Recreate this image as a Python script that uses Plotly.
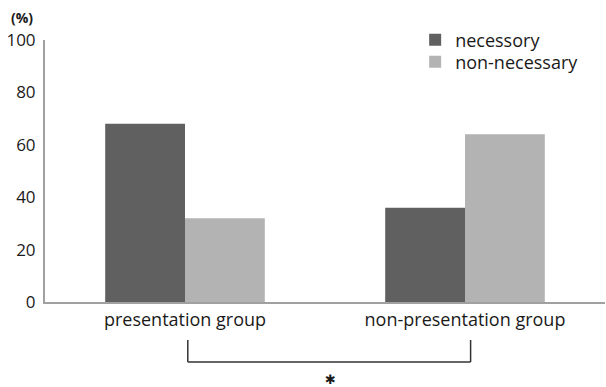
import plotly.graph_objects as go

categories = ["presentation group", "non-presentation group"]
necessory = [68, 36]
non_necessary = [32, 64]
series_names = ["necessory", "non-necessary"]
y_ticks = [0, 20, 40, 60, 80, 100]

FONT = "Open Sans"
TXT = "#1a1a1a"

fig = go.Figure()
fig.add_trace(go.Bar(x=categories, y=necessory, name=series_names[0], legend="legend",
                     marker=dict(color="#606060", line=dict(width=0))))
fig.add_trace(go.Bar(x=categories, y=non_necessary, name=series_names[1], legend="legend2",
                     marker=dict(color="#b3b3b3", line=dict(width=0))))

# significance bracket
BR = dict(color="#333333", width=1.5)
fig.add_shape(type="line", xref="x", yref="paper", x0=0.01, x1=0.01, y0=-0.145, y1=-0.229, line=BR)
fig.add_shape(type="line", xref="x", yref="paper", x0=1.02, x1=1.02, y0=-0.145, y1=-0.229, line=BR)
fig.add_shape(type="line", xref="x", yref="paper", x0=0.01, x1=1.02, y0=-0.229, y1=-0.229, line=BR)
fig.add_annotation(x=0.52, xref="x", y=-0.296, yref="paper", text="✱", showarrow=False,
                   yanchor="middle", font=dict(family="DejaVu Sans", size=13, color=TXT))
fig.add_annotation(x=-0.041, xref="paper", y=1.084, yref="paper", text="<b>(%)</b>", showarrow=False,
                   xanchor="center", yanchor="middle", font=dict(family=FONT, size=14, color=TXT))

LEG = dict(xanchor="left", yanchor="middle", font=dict(family=FONT, size=18, color=TXT),
           itemwidth=30, bgcolor="rgba(0,0,0,0)")
fig.update_layout(
    width=606, height=387,
    margin=dict(l=45, r=1, t=40, b=85, autoexpand=False),
    paper_bgcolor="white", plot_bgcolor="white",
    barmode="group", bargap=0.43, bargroupgap=0,
    font=dict(family=FONT, size=18, color=TXT),
    showlegend=True,
    legend=dict(x=0.661, y=1.0, **LEG),
    legend2=dict(x=0.661, y=0.916, **LEG),
    xaxis=dict(range=[-0.5, 1.5], showline=True, linecolor="#a0a0a0", linewidth=2,
               ticks="", showgrid=False, tickfont=dict(size=18), automargin=False),
    yaxis=dict(range=[0, 100], tickvals=y_ticks, showline=True, linecolor="#a0a0a0",
               linewidth=2, ticks="", showgrid=False, zeroline=False,
               tickfont=dict(size=17), ticklabelstandoff=4, automargin=False),
)

fig.write_html("out.html", config={"displayModeBar": False},
               post_script="document.body.style.margin='0';")
